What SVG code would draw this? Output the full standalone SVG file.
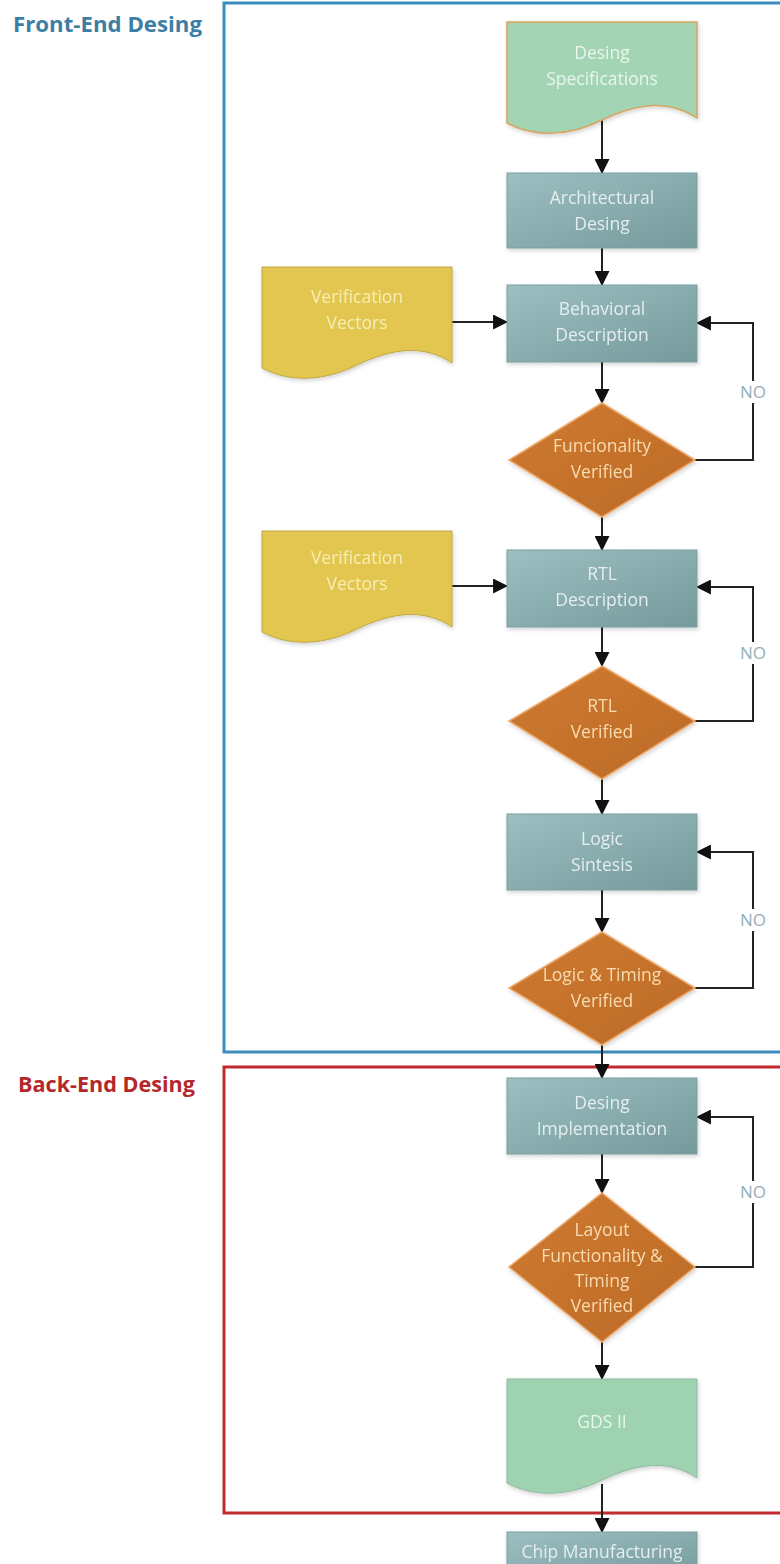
<svg xmlns="http://www.w3.org/2000/svg" width="780" height="1564" viewBox="0 0 780 1564">
<defs>
<linearGradient id="gBox" x1="0" y1="0" x2="1" y2="1">
<stop offset="0" stop-color="#9cbfc1"/>
<stop offset="1" stop-color="#76999c"/>
</linearGradient>
<linearGradient id="gDia" x1="0" y1="0" x2="1" y2="1">
<stop offset="0" stop-color="#d07a32"/>
<stop offset="1" stop-color="#bb6a26"/>
</linearGradient>
<marker id="arr" viewBox="0 0 14 14" refX="13" refY="7" markerWidth="15" markerHeight="15" markerUnits="userSpaceOnUse" orient="auto">
<path d="M0,0 L14,7 L0,14 Z" fill="#111"/>
</marker>
<filter id="sh" x="-10%" y="-10%" width="120%" height="125%">
<feDropShadow dx="1" dy="2" stdDeviation="2" flood-color="#000" flood-opacity="0.18"/>
</filter>
</defs>
<style>
.box{fill:url(#gBox);stroke:#7b9fa1;stroke-width:1}
.dia{fill:url(#gDia);stroke:#eea868;stroke-width:1.5}
.docg{fill:#9fd2b1;stroke:#8fb9a0;stroke-width:1}
.docy{fill:#e2c650;stroke:#c0a842;stroke-width:1}
.t{font-family:"Open Sans","Liberation Sans",sans-serif;font-size:17.5px;text-anchor:middle}
.tb{fill:#e4eeee}
.td{fill:#f8dcb0}
.tg{fill:#e8f6ee}
.ty{fill:#f7eeb4}
.no{font-family:"Open Sans","Liberation Sans",sans-serif;font-size:17px;fill:#93aeb8;text-anchor:middle}
.ttl{font-family:"Open Sans","Liberation Sans",sans-serif;font-size:21px;font-weight:bold}
.c{fill:none;stroke:#222;stroke-width:2}
</style>

<g id="frames">
<rect x="224" y="3" width="600" height="1049" fill="none" stroke="#3b8dbd" stroke-width="3"/>
<rect x="224" y="1067" width="600" height="446" fill="none" stroke="#c02a2e" stroke-width="3"/>
<text class="ttl" x="13" y="32" fill="#3d7ea4" textLength="189" lengthAdjust="spacingAndGlyphs">Front-End Desing</text>
<text class="ttl" x="18" y="1092" fill="#b4282a" textLength="177" lengthAdjust="spacingAndGlyphs">Back-End Desing</text>
</g>

<g id="connectors">
<line class="c" x1="602" y1="120" x2="602" y2="173" marker-end="url(#arr)"/>
<line class="c" x1="602" y1="248" x2="602" y2="285" marker-end="url(#arr)"/>
<line class="c" x1="452" y1="322" x2="507" y2="322" marker-end="url(#arr)"/>
<line class="c" x1="602" y1="362" x2="602" y2="403" marker-end="url(#arr)"/>
<polyline class="c" points="695,460 753,460 753,403"/>
<polyline class="c" points="753,381 753,323 697,323" marker-end="url(#arr)"/>
<line class="c" x1="602" y1="517" x2="602" y2="550" marker-end="url(#arr)"/>
<line class="c" x1="452" y1="586" x2="507" y2="586" marker-end="url(#arr)"/>
<line class="c" x1="602" y1="627" x2="602" y2="666" marker-end="url(#arr)"/>
<polyline class="c" points="695,721 753,721 753,664"/>
<polyline class="c" points="753,642 753,587 697,587" marker-end="url(#arr)"/>
<line class="c" x1="602" y1="779" x2="602" y2="814" marker-end="url(#arr)"/>
<line class="c" x1="602" y1="890" x2="602" y2="932" marker-end="url(#arr)"/>
<polyline class="c" points="695,988 753,988 753,931"/>
<polyline class="c" points="753,909 753,852 697,852" marker-end="url(#arr)"/>
<line class="c" x1="602" y1="1045" x2="602" y2="1078" marker-end="url(#arr)"/>
<line class="c" x1="602" y1="1154" x2="602" y2="1193" marker-end="url(#arr)"/>
<polyline class="c" points="695,1267 753,1267 753,1203"/>
<polyline class="c" points="753,1181 753,1117 697,1117" marker-end="url(#arr)"/>
<line class="c" x1="602" y1="1342" x2="602" y2="1379" marker-end="url(#arr)"/>
<line class="c" x1="602" y1="1484" x2="602" y2="1532" marker-end="url(#arr)"/>
</g>

<g id="labels-no">
<text class="no" x="753" y="398">NO</text>
<text class="no" x="753" y="659">NO</text>
<text class="no" x="753" y="926">NO</text>
<text class="no" x="753" y="1198">NO</text>
</g>

<g id="design-spec" filter="url(#sh)">
<path d="M507,22 H697 V118 C670,100 640,102 602,120 C570,136 535,138 507,123 Z" fill="#a3d4b4" stroke="#d9a45e" stroke-width="1.5"/>
<text class="t tg" x="602" y="59">Desing</text>
<text class="t tg" x="602" y="85">Specifications</text>
</g>

<g id="architectural" filter="url(#sh)">
<rect class="box" x="507" y="173" width="190" height="75"/>
<text class="t tb" x="602" y="204">Architectural</text>
<text class="t tb" x="602" y="230">Desing</text>
</g>

<g id="vectors1" filter="url(#sh)">
<path class="docy" d="M262,267 H452 V363 C425,345 395,347 357,365 C325,381 290,383 262,368 Z"/>
<text class="t ty" x="357" y="303">Verification</text>
<text class="t ty" x="357" y="329">Vectors</text>
</g>

<g id="behavioral" filter="url(#sh)">
<rect class="box" x="507" y="285" width="190" height="77"/>
<text class="t tb" x="602" y="315">Behavioral</text>
<text class="t tb" x="602" y="341">Description</text>
</g>

<g id="func-verified" filter="url(#sh)">
<polygon class="dia" points="602,403 695,460 602,517 509,460"/>
<text class="t td" x="602" y="452">Funcionality</text>
<text class="t td" x="602" y="478">Verified</text>
</g>

<g id="vectors2" filter="url(#sh)">
<path class="docy" d="M262,531 H452 V627 C425,609 395,611 357,629 C325,645 290,647 262,632 Z"/>
<text class="t ty" x="357" y="564">Verification</text>
<text class="t ty" x="357" y="590">Vectors</text>
</g>

<g id="rtl" filter="url(#sh)">
<rect class="box" x="507" y="550" width="190" height="77"/>
<text class="t tb" x="602" y="580">RTL</text>
<text class="t tb" x="602" y="606">Description</text>
</g>

<g id="rtl-verified" filter="url(#sh)">
<polygon class="dia" points="602,666 695,721 602,779 509,721"/>
<text class="t td" x="602" y="712">RTL</text>
<text class="t td" x="602" y="738">Verified</text>
</g>

<g id="logic" filter="url(#sh)">
<rect class="box" x="507" y="814" width="190" height="76"/>
<text class="t tb" x="602" y="845">Logic</text>
<text class="t tb" x="602" y="871">Sintesis</text>
</g>

<g id="logic-verified" filter="url(#sh)">
<polygon class="dia" points="602,932 695,988 602,1045 509,988"/>
<text class="t td" x="602" y="981">Logic &amp; Timing</text>
<text class="t td" x="602" y="1007">Verified</text>
</g>

<g id="implementation" filter="url(#sh)">
<rect class="box" x="507" y="1078" width="190" height="76"/>
<text class="t tb" x="602" y="1109">Desing</text>
<text class="t tb" x="602" y="1135">Implementation</text>
</g>

<g id="layout-verified" filter="url(#sh)">
<polygon class="dia" points="602,1193 695,1267 602,1342 509,1267"/>
<text class="t td" x="602" y="1236">Layout</text>
<text class="t td" x="602" y="1262">Functionality &amp;</text>
<text class="t td" x="602" y="1287">Timing</text>
<text class="t td" x="602" y="1312">Verified</text>
</g>

<g id="gds" filter="url(#sh)">
<path class="docg" d="M507,1379 H697 V1478 C670,1460 640,1462 602,1480 C570,1496 535,1498 507,1483 Z"/>
<text class="t tg" x="602" y="1428">GDS II</text>
</g>

<g id="chip" filter="url(#sh)">
<rect class="box" x="507" y="1532" width="190" height="50"/>
<text class="t tb" x="602" y="1558">Chip Manufacturing</text>
</g>
</svg>
